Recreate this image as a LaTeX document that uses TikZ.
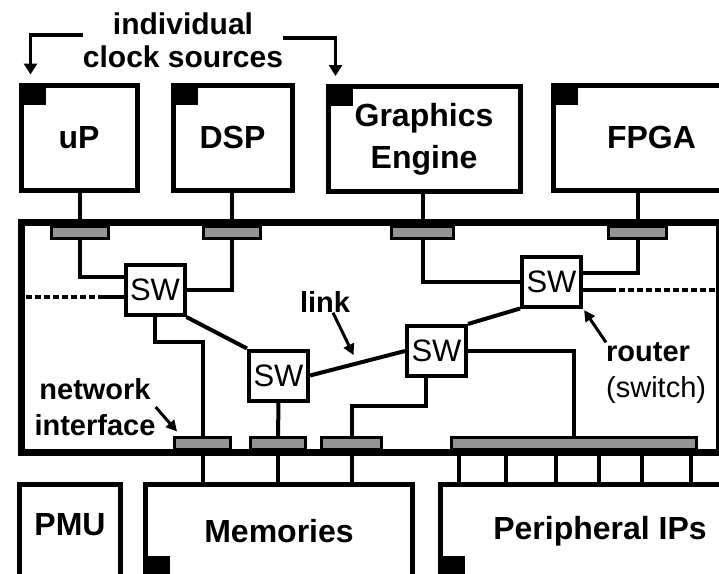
\documentclass[tikz,border=0pt]{standalone}
\usepackage{fontspec}
\setmainfont{Liberation Sans}
\usetikzlibrary{arrows.meta,positioning,calc}
\tikzset{
  ipbox/.style={draw, line width=5pt, minimum width=#1, minimum height=105pt,
                inner sep=0pt, align=center, font=\fontsize{32}{42}\selectfont\bfseries},
  lowbox/.style={ipbox=#1, minimum height=93pt},
  nocbox/.style={draw, line width=7pt, minimum width=698pt, minimum height=230pt},
  ni/.style={draw, line width=3pt, fill=black!42, minimum width=#1,
             minimum height=12pt, inner sep=0pt},
  sw/.style={draw, line width=4pt, fill=white, minimum width=59pt, minimum height=50pt,
             inner sep=0pt, font=\fontsize{31}{31}\selectfont},
  link/.style={line width=4pt},
  dotline/.style={line width=4pt, dash pattern=on 6pt off 3pt},
  note/.style={line width=3pt, -{Triangle[width=11pt,length=11pt]}},
  clkarrow/.style={line width=3.5pt, -{Triangle[width=13pt,length=11pt]}},
  lbl/.style={inner sep=0pt, align=center, font=\fontsize{29}{36}\selectfont\bfseries},
}

\begin{document}
\begin{tikzpicture}[x=1pt, y=-1pt]
  \useasboundingbox (0,0) rectangle (719,573);
  \clip (0,0) rectangle (719,573);
  % cores on top
  \node[ipbox=116pt] (up) at (79,137.5) {uP};
  \node[ipbox=119pt] (dsp) at (232.5,137.5) {DSP};
  \node[ipbox=192pt] (gfx) at (424,139) {Graphics\\Engine};
  \node[ipbox=197pt] (fpga) at (651.5,137.5) {FPGA};
  \foreach \b in {up,dsp,gfx,fpga}
    \fill (\b.north west) rectangle ++(27,22);
  % clock sources
  \node[lbl, font=\fontsize{30}{33}\selectfont\bfseries] (clk) at (183,40) {individual\\clock sources};
  \draw[clkarrow] ([yshift=5pt]clk.west) -| ([shift={(12pt,8pt)}]up.north west);
  \draw[clkarrow] ([yshift=2pt]clk.east) -| ([shift={(10pt,8pt)}]gfx.north west);
  % network on chip
  \node[nocbox] (noc) at (370,337) {};
  \node[ni=57pt] (ni1) at (80,232.5) {};
  \node[ni=57pt] (ni2) at (232,232.5) {};
  \node[ni=62pt] (ni3) at (422.5,232.5) {};
  \node[ni=58pt] (ni4) at (637.5,232.5) {};
  \node[ni=56pt] (nb1) at (202.5,443.5) {};
  \node[ni=55pt] (nb2) at (278,443.5) {};
  \node[ni=60pt] (nb3) at (351.5,443.5) {};
  \node[ni=245pt] (nbig) at (574,443.5) {};
  \foreach \n in {ni1,ni2,ni3,ni4}
    \draw[link] (\n.north) -- (\n.north |- up.south);
  % switches
  \node[sw] (sw1) at (155,290) {SW};
  \node[sw] (sw2) at (278.5,375.5) {SW};
  \node[sw] (sw3) at (436.5,351) {SW};
  \node[sw] (sw4) at (551.5,281.5) {SW};
  \draw[link] (ni1.south) |- ([yshift=13pt]sw1.west);
  \draw[link] (ni2.south) |- ([yshift=0pt]sw1.east);
  \draw[link] (sw1.south) -- ++(0,25) -| (nb1.north);
  \draw[link] (sw1.south east) -- (sw2.north west);
  \draw[link] (sw2.east) -- (sw3.west);
  \draw[link] (sw3.north east) -- (sw4.south west);
  \draw[link] (ni3.south) |- (sw4.west);
  \draw[link] (ni4.south) |- ([yshift=9pt]sw4.east);
  \draw[link] (sw3.east) -| (nbig.north);
  \draw[link] ([xshift=-11pt]sw3.south) -- ++(0,28) -| (nb3.north);
  \draw[link] (sw2.south) -- (nb2.north);
  \coordinate (lend) at (26,297);
  \coordinate (rend) at (716,290);
  \draw[dotline] (lend) -- ([yshift=-7pt]sw1.west);
  \draw[link] ([yshift=-7pt]sw1.west) -- ++(-25,0);
  \draw[dotline] ([yshift=-8.5pt]sw4.east) -- (rend);
  \draw[link] ([yshift=-8.5pt]sw4.east) -- ++(30,0);
  % blocks below
  \node[lowbox=101pt, text depth=14pt] (pmu) at (70,531) {PMU};
  \node[lowbox=267pt] (mem) at (279,531) {Memories};
  \node[lowbox=320pt] (periph) at (600,531) {Peripheral IPs};
  \foreach \b in {mem,periph}
    \fill (\b.south west) rectangle ++(27,-24);
  \foreach \n in {nb1,nb2,nb3}
    \draw[link] (\n.south) -- (\n.south |- mem.north);
  \foreach \dx in {8.5,55.5,105.5,148.5,191.5,240.5}
    \draw[link] ([xshift=\dx pt]nbig.south west) -- ++(0,35);
  % annotations
  \node[lbl] (lnk) at (325,302) {link};
  \draw[note, shorten >=9pt] ([xshift=8pt]lnk.south) -- ($(sw2.east)!0.5!(sw3.west)$);
  \node[lbl] (nif) at (95,407) {network\\interface};
  \draw[note, shorten >=6pt] (nif.east) -- ([xshift=8pt]nb1.north west);
  \node[lbl, align=left, anchor=west] (rtr) at (606,373) {router\\\mdseries(switch)};
  \draw[note, shorten >=2pt] (rtr.north west) -- (sw4.south east);
\end{tikzpicture}
\end{document}
